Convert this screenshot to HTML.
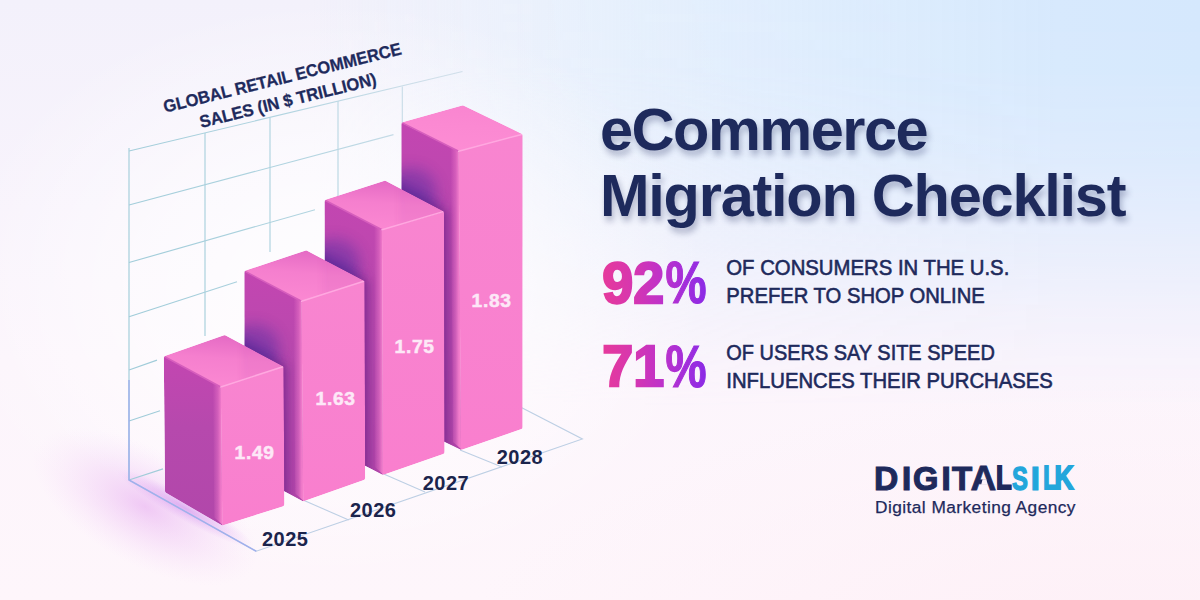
<!DOCTYPE html>
<html lang="en">
<head>
<meta charset="utf-8">
<title>eCommerce Migration Checklist</title>
<style>
  html,body{margin:0;padding:0;}
  body{width:1200px;height:600px;overflow:hidden;position:relative;
    font-family:"Liberation Sans",sans-serif;
    background:
      radial-gradient(ellipse 700px 300px at 1150px 680px, rgba(253,238,245,.9) 0%, rgba(254,240,247,.45) 60%, rgba(254,242,248,0) 100%),
      linear-gradient(180deg,#f3f1fb 0%,#f8f3fc 35%,#fcf5fc 60%,#fef6fb 100%);
  }
  #sky{position:absolute;left:0;top:0;width:1200px;height:600px;
    background:linear-gradient(90deg,rgba(232,243,253,0) 26%,rgba(230,242,253,.45) 40%,rgba(226,240,253,.7) 50%,rgba(222,237,253,.86) 62%,rgba(218,235,253,.95) 75%,rgba(215,233,253,1) 88%,rgba(213,232,253,1) 100%);
    -webkit-mask-image:linear-gradient(180deg,rgba(0,0,0,1) 0%,rgba(0,0,0,.97) 12%,rgba(0,0,0,.8) 25%,rgba(0,0,0,.48) 40%,rgba(0,0,0,.18) 54%,rgba(0,0,0,0) 68%);
    mask-image:linear-gradient(180deg,rgba(0,0,0,1) 0%,rgba(0,0,0,.97) 12%,rgba(0,0,0,.8) 25%,rgba(0,0,0,.48) 40%,rgba(0,0,0,.18) 54%,rgba(0,0,0,0) 68%);}
  #halo{position:absolute;left:0;top:0;width:1200px;height:600px;
    background:radial-gradient(ellipse 380px 290px at 330px 290px, rgba(255,255,255,.85) 0%, rgba(255,255,255,.55) 50%, rgba(255,255,255,0) 100%);}
  #chart{position:absolute;left:0;top:0;width:1200px;height:600px;}
  .t{position:absolute;white-space:nowrap;color:#1e2a5c;}
  #title{left:600px;top:96.5px;font-size:59.5px;line-height:66px;font-weight:700;letter-spacing:-1.24px;
     text-shadow:2px 5px 6px rgba(40,50,100,.33);}
</style>
</head>
<body>
<div id="sky"></div><div id="halo"></div>
<svg id="chart" viewBox="0 0 1200 600" font-family="Liberation Sans, sans-serif">
  <defs>
    <linearGradient id="pg" gradientUnits="userSpaceOnUse" x1="602" y1="0" x2="707" y2="0">
      <stop offset="0" stop-color="#e63a9b"/>
      <stop offset=".3" stop-color="#d636b0"/>
      <stop offset=".55" stop-color="#c032c8"/>
      <stop offset=".8" stop-color="#a22edb"/>
      <stop offset="1" stop-color="#8a2ae6"/>
    </linearGradient>
    <linearGradient id="wl" gradientUnits="userSpaceOnUse" x1="129" y1="300" x2="470" y2="200">
      <stop offset="0" stop-color="#a0ccd9"/><stop offset=".55" stop-color="#b1d4e0"/><stop offset="1" stop-color="#d0dfea"/>
    </linearGradient>
    <radialGradient id="glow" cx="0.5" cy="0.5" r="0.5">
      <stop offset="0" stop-color="#e29aee" stop-opacity=".5"/>
      <stop offset=".5" stop-color="#eab4f2" stop-opacity=".26"/>
      <stop offset="1" stop-color="#f4d0f8" stop-opacity="0"/>
    </radialGradient>
    <radialGradient id="glow2" cx="0.5" cy="0.5" r="0.5">
      <stop offset="0" stop-color="#c070e8" stop-opacity=".45"/>
      <stop offset="1" stop-color="#d890f0" stop-opacity="0"/>
    </radialGradient>
  </defs>
  <!-- floor glow -->
  <g transform="translate(150,498) rotate(29)">
    <ellipse cx="0" cy="10" rx="125" ry="58" fill="url(#glow)"/>
    <ellipse cx="36" cy="-8" rx="78" ry="12" fill="url(#glow2)"/>
  </g>
  <!-- wall grid -->
  <g stroke="url(#wl)" stroke-width="1.150" fill="none">
    <line x1="129" y1="148" x2="129" y2="480"/>
    <line x1="205" y1="133" x2="205" y2="336"/>
    <line x1="270" y1="117.5" x2="270" y2="252"/>
    <line x1="338" y1="101" x2="338" y2="199"/>
    <line x1="402.3" y1="86.5" x2="402.3" y2="123"/>
    <line x1="129" y1="151" x2="462.5" y2="71.5"/>
    <line x1="129" y1="205" x2="393.5" y2="134.6"/>
    <line x1="129" y1="262.5" x2="315" y2="209.7"/>
    <line x1="129" y1="316.8" x2="237" y2="281.7"/>
    <line x1="129" y1="370" x2="157" y2="360.1"/>
    <line x1="129" y1="421" x2="160" y2="410.8"/>
    <line x1="129" y1="480" x2="163" y2="468.9"/>
  </g>
  <!-- floor grid -->
  <g stroke="#bdcfe4" stroke-width="1.100" fill="none">
    <polyline points="129,480 256.250,551.250 582.400,439 462.500,377"/>
    <line x1="303" y1="500" x2="348.750" y2="520"/>
    <line x1="383.750" y1="474" x2="425" y2="492"/>
    <line x1="460" y1="450" x2="502" y2="467"/>
  </g>
  <polyline points="129,380 129,480 256.250,551.250" stroke="#9aaaec" stroke-width="1.500" fill="none" opacity=".85"/>
  <!--BARS-->
  <defs>
    <filter id="ao" x="-50%" y="-50%" width="200%" height="200%"><feGaussianBlur stdDeviation="7"/></filter>
    <filter id="ao3" x="-50%" y="-50%" width="200%" height="200%"><feGaussianBlur stdDeviation="4"/></filter>
    <filter id="ao2" x="-50%" y="-50%" width="200%" height="200%"><feGaussianBlur stdDeviation="3"/></filter>
    <mask id="mk1" maskUnits="userSpaceOnUse" x="0" y="0" width="1200" height="600"><polygon points="166.4,358.1 224.6,337.8 281.0,368.1 281.8,504.1 222.6,522.8 167.6,490.8" fill="#fff" stroke="#fff" stroke-width="5.2" stroke-linejoin="round"/></mask>
    <clipPath id="cl1"><polygon points="163.8,356.3 220.8,387.0 222.3,525.6 165.0,492.3"/></clipPath>
    <linearGradient id="se1" gradientUnits="userSpaceOnUse" x1="212.8" y1="0" x2="221.3" y2="0"><stop offset="0" stop-color="#f27bcb" stop-opacity="0"/><stop offset=".6" stop-color="#f27bcb" stop-opacity=".45"/><stop offset="1" stop-color="#f680cd" stop-opacity=".95"/></linearGradient>
    <clipPath id="ct1"><polygon points="163.8,356.3 224.8,335.0 283.6,366.5 220.8,387.0"/></clipPath>
    <linearGradient id="lf1" gradientUnits="userSpaceOnUse" x1="0" y1="356" x2="0" y2="526"><stop offset="0" stop-color="#c346b1"/><stop offset=".42" stop-color="#b649ad"/><stop offset="1" stop-color="#b147aa"/></linearGradient>
    <linearGradient id="tf1" gradientUnits="userSpaceOnUse" x1="225" y1="335" x2="221" y2="387"><stop offset="0" stop-color="#e46ac4"/><stop offset=".45" stop-color="#f57fce"/><stop offset="1" stop-color="#fb88d2"/></linearGradient>
    <mask id="mk2" maskUnits="userSpaceOnUse" x="0" y="0" width="1200" height="600"><polygon points="246.9,272.8 306.0,253.1 362.0,282.6 362.6,477.8 303.4,498.6 247.1,468.4" fill="#fff" stroke="#fff" stroke-width="5.2" stroke-linejoin="round"/></mask>
    <clipPath id="cl2"><polygon points="244.3,270.9 301.5,301.3 303.2,501.4 244.5,470.0"/></clipPath>
    <linearGradient id="se2" gradientUnits="userSpaceOnUse" x1="293.5" y1="0" x2="302.0" y2="0"><stop offset="0" stop-color="#f27bcb" stop-opacity="0"/><stop offset=".6" stop-color="#f27bcb" stop-opacity=".45"/><stop offset="1" stop-color="#f680cd" stop-opacity=".95"/></linearGradient>
    <clipPath id="ct2"><polygon points="244.3,270.9 306.2,250.3 364.6,281.0 301.5,301.3"/></clipPath>
    <linearGradient id="lf2" gradientUnits="userSpaceOnUse" x1="0" y1="271" x2="0" y2="501"><stop offset="0" stop-color="#c346b1"/><stop offset=".42" stop-color="#b649ad"/><stop offset="1" stop-color="#b147aa"/></linearGradient>
    <linearGradient id="tf2" gradientUnits="userSpaceOnUse" x1="306" y1="250" x2="302" y2="301"><stop offset="0" stop-color="#e46ac4"/><stop offset=".45" stop-color="#f57fce"/><stop offset="1" stop-color="#fb88d2"/></linearGradient>
    <mask id="mk3" maskUnits="userSpaceOnUse" x="0" y="0" width="1200" height="600"><polygon points="327.1,201.9 384.8,183.4 441.4,213.0 442.0,451.8 383.0,472.2 327.6,443.4" fill="#fff" stroke="#fff" stroke-width="5.2" stroke-linejoin="round"/></mask>
    <clipPath id="cl3"><polygon points="324.5,200.0 382.0,229.7 382.8,475.0 325.0,445.0"/></clipPath>
    <linearGradient id="se3" gradientUnits="userSpaceOnUse" x1="374.0" y1="0" x2="382.5" y2="0"><stop offset="0" stop-color="#f27bcb" stop-opacity="0"/><stop offset=".6" stop-color="#f27bcb" stop-opacity=".45"/><stop offset="1" stop-color="#f680cd" stop-opacity=".95"/></linearGradient>
    <clipPath id="ct3"><polygon points="324.5,200.0 385.0,180.6 444.0,211.4 382.0,229.7"/></clipPath>
    <linearGradient id="lf3" gradientUnits="userSpaceOnUse" x1="0" y1="200" x2="0" y2="475"><stop offset="0" stop-color="#c346b1"/><stop offset=".42" stop-color="#b649ad"/><stop offset="1" stop-color="#b147aa"/></linearGradient>
    <linearGradient id="tf3" gradientUnits="userSpaceOnUse" x1="385" y1="181" x2="382" y2="230"><stop offset="0" stop-color="#e46ac4"/><stop offset=".45" stop-color="#f57fce"/><stop offset="1" stop-color="#fb88d2"/></linearGradient>
    <mask id="mk4" maskUnits="userSpaceOnUse" x="0" y="0" width="1200" height="600"><polygon points="403.9,124.4 462.7,108.1 520.1,135.8 520.0,426.9 461.2,447.2 404.2,419.4" fill="#fff" stroke="#fff" stroke-width="5.2" stroke-linejoin="round"/></mask>
    <clipPath id="cl4"><polygon points="401.3,122.4 458.6,151.2 461.0,450.0 401.6,421.0"/></clipPath>
    <linearGradient id="se4" gradientUnits="userSpaceOnUse" x1="450.6" y1="0" x2="459.1" y2="0"><stop offset="0" stop-color="#f27bcb" stop-opacity="0"/><stop offset=".6" stop-color="#f27bcb" stop-opacity=".45"/><stop offset="1" stop-color="#f680cd" stop-opacity=".95"/></linearGradient>
    <clipPath id="ct4"><polygon points="401.3,122.4 463.0,105.3 522.7,134.2 458.6,151.2"/></clipPath>
    <linearGradient id="lf4" gradientUnits="userSpaceOnUse" x1="0" y1="122" x2="0" y2="450"><stop offset="0" stop-color="#c346b1"/><stop offset=".42" stop-color="#b649ad"/><stop offset="1" stop-color="#b147aa"/></linearGradient>
    <linearGradient id="tf4" gradientUnits="userSpaceOnUse" x1="463" y1="105" x2="459" y2="151"><stop offset="0" stop-color="#f985d0"/><stop offset=".45" stop-color="#fb89d2"/><stop offset="1" stop-color="#fd8cd4"/></linearGradient>
    <linearGradient id="rf" x1="0" y1="0" x2="0" y2="1"><stop offset="0" stop-color="#f885d0"/><stop offset="1" stop-color="#f97fce"/></linearGradient>
  </defs>
  <g mask="url(#mk4)">
    <polygon points="401.3,122.4 458.6,151.2 461.0,450.0 401.6,421.0" fill="url(#lf4)"/>
    <g clip-path="url(#cl4)"><polygon points="324.5,200.0 385.0,180.6 444.0,211.4 444.6,453.6 382.8,475.0 325.0,445.0" fill="#54299a" opacity=".62" filter="url(#ao)" transform="translate(-4,-8)"/><polygon points="324.5,200.0 385.0,180.6 444.0,211.4 444.6,453.6 382.8,475.0 325.0,445.0" fill="#6a1f80" opacity=".5" filter="url(#ao3)" transform="translate(4,0)"/><ellipse cx="410.3" cy="189.8" rx="26" ry="22" fill="#4a2ca0" opacity=".4" filter="url(#ao)"/></g>
    <g clip-path="url(#cl4)"><polygon points="450.6,143.2 459.6,151.2 462.0,450.0 453.0,442.0" fill="url(#se4)"/></g>
    <polygon points="458.6,151.2 522.7,134.2 522.6,428.8 461.0,450.0" fill="url(#rf)"/>
    <polygon points="401.3,122.4 463.0,105.3 522.7,134.2 458.6,151.2" fill="url(#tf4)"/>
    <polyline points="401.3,122.4 458.6,151.2" fill="none" stroke="#d65ebd" stroke-width="1.6" stroke-linecap="round"/>
    <polyline points="458.6,151.2 522.7,134.2" fill="none" stroke="#ffa8e0" stroke-width="1.5" stroke-linecap="round"/>
  </g>
  <g mask="url(#mk3)">
    <polygon points="324.5,200.0 382.0,229.7 382.8,475.0 325.0,445.0" fill="url(#lf3)"/>
    <g clip-path="url(#cl3)"><polygon points="244.3,270.9 306.2,250.3 364.6,281.0 365.2,479.6 303.2,501.4 244.5,470.0" fill="#54299a" opacity=".62" filter="url(#ao)" transform="translate(-4,-8)"/><polygon points="244.3,270.9 306.2,250.3 364.6,281.0 365.2,479.6 303.2,501.4 244.5,470.0" fill="#6a1f80" opacity=".5" filter="url(#ao3)" transform="translate(4,0)"/><ellipse cx="333.5" cy="260.7" rx="26" ry="22" fill="#4a2ca0" opacity=".4" filter="url(#ao)"/></g>
    <g clip-path="url(#cl3)"><polygon points="374.0,221.7 383.0,229.7 383.8,475.0 374.8,467.0" fill="url(#se3)"/></g>
    <polygon points="382.0,229.7 444.0,211.4 444.6,453.6 382.8,475.0" fill="url(#rf)"/>
    <polygon points="324.5,200.0 385.0,180.6 444.0,211.4 382.0,229.7" fill="url(#tf3)"/>
    <g clip-path="url(#ct3)"><polygon points="401.3,122.4 458.6,151.2 461.0,450.0 401.6,421.0" fill="#b040a8" opacity=".08" filter="url(#ao2)" transform="translate(-2,0)"/></g>
    <polyline points="324.5,200.0 382.0,229.7" fill="none" stroke="#d65ebd" stroke-width="1.6" stroke-linecap="round"/>
    <polyline points="382.0,229.7 444.0,211.4" fill="none" stroke="#ffa8e0" stroke-width="1.5" stroke-linecap="round"/>
  </g>
  <g mask="url(#mk2)">
    <polygon points="244.3,270.9 301.5,301.3 303.2,501.4 244.5,470.0" fill="url(#lf2)"/>
    <g clip-path="url(#cl2)"><polygon points="163.8,356.3 224.8,335.0 283.6,366.5 284.4,506.0 222.3,525.6 165.0,492.3" fill="#54299a" opacity=".62" filter="url(#ao)" transform="translate(-4,-8)"/><polygon points="163.8,356.3 224.8,335.0 283.6,366.5 284.4,506.0 222.3,525.6 165.0,492.3" fill="#6a1f80" opacity=".5" filter="url(#ao3)" transform="translate(4,0)"/><ellipse cx="253.3" cy="346.3" rx="26" ry="22" fill="#4a2ca0" opacity=".4" filter="url(#ao)"/></g>
    <g clip-path="url(#cl2)"><polygon points="293.5,293.3 302.5,301.3 304.2,501.4 295.2,493.4" fill="url(#se2)"/></g>
    <polygon points="301.5,301.3 364.6,281.0 365.2,479.6 303.2,501.4" fill="url(#rf)"/>
    <polygon points="244.3,270.9 306.2,250.3 364.6,281.0 301.5,301.3" fill="url(#tf2)"/>
    <g clip-path="url(#ct2)"><polygon points="324.5,200.0 382.0,229.7 382.8,475.0 325.0,445.0" fill="#b040a8" opacity=".08" filter="url(#ao2)" transform="translate(-2,0)"/></g>
    <polyline points="244.3,270.9 301.5,301.3" fill="none" stroke="#d65ebd" stroke-width="1.6" stroke-linecap="round"/>
    <polyline points="301.5,301.3 364.6,281.0" fill="none" stroke="#ffa8e0" stroke-width="1.5" stroke-linecap="round"/>
  </g>
  <g mask="url(#mk1)">
    <polygon points="163.8,356.3 220.8,387.0 222.3,525.6 165.0,492.3" fill="url(#lf1)"/>
    <g clip-path="url(#cl1)"><polygon points="212.8,379.0 221.8,387.0 223.3,525.6 214.3,517.6" fill="url(#se1)"/></g>
    <polygon points="220.8,387.0 283.6,366.5 284.4,506.0 222.3,525.6" fill="url(#rf)"/>
    <polygon points="163.8,356.3 224.8,335.0 283.6,366.5 220.8,387.0" fill="url(#tf1)"/>
    <g clip-path="url(#ct1)"><polygon points="244.3,270.9 301.5,301.3 303.2,501.4 244.5,470.0" fill="#b040a8" opacity=".08" filter="url(#ao2)" transform="translate(-2,0)"/></g>
    <polyline points="163.8,356.3 220.8,387.0" fill="none" stroke="#d65ebd" stroke-width="1.6" stroke-linecap="round"/>
    <polyline points="220.8,387.0 283.6,366.5" fill="none" stroke="#ffa8e0" stroke-width="1.5" stroke-linecap="round"/>
  </g>
  <!--/BARS-->
  <g font-weight="700" font-size="19.200" fill="#fde8f7" stroke="#fde8f7" stroke-width=".5" text-anchor="middle" letter-spacing=".7">
    <text x="254.600" y="459.300">1.49</text>
    <text x="335.600" y="405">1.63</text>
    <text x="414.600" y="353.300">1.75</text>
    <text x="491.600" y="306.700">1.83</text>
  </g>
  <g font-weight="700" font-size="20" fill="#1b244c" text-anchor="middle" letter-spacing=".45">
    <text x="285.200" y="545.500">2025</text>
    <text x="373.200" y="516.500">2026</text>
    <text x="445.900" y="489.600">2027</text>
    <text x="519.900" y="463.900">2028</text>
  </g>
  <g font-weight="700" font-size="17.300" fill="#1e2a5c" stroke="#1e2a5c" stroke-width=".3" text-anchor="middle">
    <text transform="translate(283.700,83.500) rotate(-13.900)" textLength="244.500" lengthAdjust="spacingAndGlyphs">GLOBAL RETAIL ECOMMERCE</text>
    <text transform="translate(289.300,106.200) rotate(-13.900)" textLength="181.500" lengthAdjust="spacingAndGlyphs">SALES (IN $ TRILLION)</text>
  </g>

  <!-- stats -->
  <g font-weight="700" font-size="57.500" fill="url(#pg)" stroke="url(#pg)" stroke-width="2.300" stroke-linejoin="miter">
    <text x="602.300" y="302.900" textLength="62" lengthAdjust="spacingAndGlyphs">92</text>
    <text x="665.500" y="303.300" font-size="58.500" stroke-width="1.200" textLength="41" lengthAdjust="spacingAndGlyphs">%</text>
    <text x="602.300" y="386.400" textLength="62" lengthAdjust="spacingAndGlyphs">71</text>
    <text x="665.500" y="386.800" font-size="58.500" stroke-width="1.200" textLength="41" lengthAdjust="spacingAndGlyphs">%</text>
  </g>
  <g font-size="21.700" fill="#1e2a5c" stroke="#1e2a5c" stroke-width=".6">
    <text x="726.300" y="274.600" textLength="283" lengthAdjust="spacingAndGlyphs">OF CONSUMERS IN THE U.S.</text>
    <text x="726.300" y="302.800" textLength="258.500" lengthAdjust="spacingAndGlyphs">PREFER TO SHOP ONLINE</text>
    <text x="726.300" y="359.800" textLength="268.500" lengthAdjust="spacingAndGlyphs">OF USERS SAY SITE SPEED</text>
    <text x="726.300" y="387.700" textLength="326.500" lengthAdjust="spacingAndGlyphs">INFLUENCES THEIR PURCHASES</text>
  </g>

  <!-- logo -->
  <g font-weight="700" fill="#1e2a5c" stroke="#1e2a5c" stroke-linejoin="miter">
    <text transform="translate(874.07,489.67) scale(0.992,1)" font-size="33.94" stroke-width="1.05">D</text>
    <text transform="translate(901.68,489.70) scale(1.021,1)" font-size="34.01" stroke-width="1.00">I</text>
    <text transform="translate(913.07,489.60) scale(0.967,1)" font-size="33.71" stroke-width="1.21">G</text>
    <text transform="translate(941.18,489.70) scale(1.021,1)" font-size="34.01" stroke-width="1.00">I</text>
    <text transform="translate(951.90,489.63) scale(0.977,1)" font-size="33.81" stroke-width="1.14">T</text>
    <text transform="translate(970.49,489.82) scale(1.039,1)" font-size="34.36" stroke-width="0.76">A</text>
    <text transform="translate(995.98,489.30) scale(0.783,1)" font-size="32.85" stroke-width="1.80">L</text>
  </g>
  <g font-weight="700" fill="#23a6db" stroke="#23a6db" stroke-linejoin="miter">
    <text transform="translate(1012.01,489.50) scale(0.714,1)" font-size="33.43" stroke-width="1.40">S</text>
    <text transform="translate(1030.48,489.70) scale(1.021,1)" font-size="34.01" stroke-width="1.00">I</text>
    <text transform="translate(1043.37,489.30) scale(0.694,1)" font-size="32.85" stroke-width="1.80">L</text>
    <text transform="translate(1054.42,489.30) scale(0.811,1)" font-size="32.85" stroke-width="1.80">K</text>
  </g>
  <polygon id="acut" points="982.6,479.2 986.4,479.2 987.8,484.7 981.2,484.7" fill="#fdf3f9"/>
  <text x="875" y="513.300" font-size="17.300" fill="#1e2a5c" stroke="#1e2a5c" stroke-width=".25" textLength="200.500" lengthAdjust="spacing">Digital Marketing Agency</text>
</svg>

<div class="t" id="title"><span style="letter-spacing:-1.5px">eCommerce</span><br>Migration Checklist</div>
</body>
</html>
